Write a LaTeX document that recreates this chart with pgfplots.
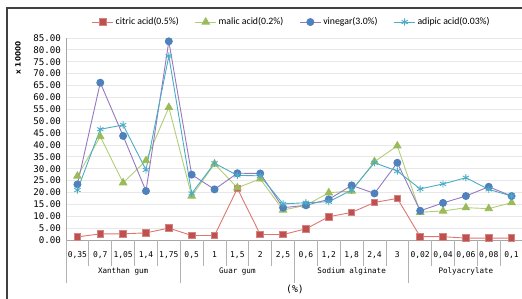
\documentclass[border=0pt]{standalone}
\usepackage{pgfplots}
\pgfplotsset{compat=1.18}
\usepackage{pgfplotstable}
\usepackage{fontspec}
\newfontfamily\legfont{Carlito}
\newfontfamily\monofont{DejaVu Sans Mono}
\newfontfamily\labfont{DejaVu Sans}
\definecolor{cRed}{HTML}{C0504D}
\definecolor{cRedL}{RGB}{222,118,112}
\definecolor{cGreen}{HTML}{9BBB59}
\definecolor{cGreenL}{RGB}{176,206,120}
\definecolor{cBlue}{HTML}{4F81BD}
\definecolor{cPurple}{RGB}{150,120,190}
\definecolor{cCyan}{HTML}{4BACC6}
\pgfplotstableread{
x citric malic vinegar adipic
0 1.3 26.9 23.4 21.0
1 2.6 43.5 66.2 46.6
2 2.6 24.1 43.8 48.4
3 3.0 33.4 20.6 29.5
4 5.0 55.8 83.6 77.4
5 1.9 18.5 27.5 19.6
6 1.9 32.0 21.3 32.3
7 21.7 22.0 28.1 27.2
8 2.3 25.7 28.0 27.0
9 2.3 12.6 13.6 15.2
10 4.7 14.6 14.6 15.7
11 9.8 19.9 17.1 16.1
12 11.6 20.6 23.0 21.0
13 15.8 33.0 19.6 32.5
14 17.5 39.6 32.5 29.0
15 1.4 11.7 12.3 21.5
16 1.4 12.2 15.6 23.6
17 0.8 13.6 18.5 26.2
18 0.8 13.2 22.4 21.3
19 0.8 15.7 18.5 18.5
}\datatable
\begin{document}
\begin{tikzpicture}[x=1bp,y=1bp]
\useasboundingbox (0,0) rectangle (522,298);
\draw[line width=1.3bp, black!75] (7,-2) -- (7,290) -- (530,290);
\begin{axis}[
  at={(66bp,58bp)}, anchor=south west, scale only axis,
  width=457bp, height=202bp,
  xmin=-0.5, xmax=19.5, ymin=0, ymax=85,
  clip=false,
  axis x line*=bottom, axis y line*=left,
  axis line style={draw=gray!70, -},
  xtick={0,...,19},
  xticklabels={{0,35},{0,7},{1,05},{1,4},{1,75},{0,5},{1},{1,5},{2},{2,5},{0,6},{1,2},{1,8},{2,4},{3},{0,02},{0,04},{0,06},{0,08},{0,1}},
  xticklabel style={font=\monofont\fontsize{8}{9}\selectfont, anchor=center, yshift=-15bp},
  ytick={0,5,...,85},
  yticklabel style={font=\monofont\fontsize{9.2}{10}\selectfont, xshift=-1.5bp},
  /pgf/number format/.cd, fixed, fixed zerofill, precision=2, assume math mode=true,
  /pgfplots/.cd,
  major tick length=0pt,
  ymajorgrids, grid style={gray!18, line width=0.8bp},
  legend columns=4,
  legend style={at={(0.494,1.079)}, anchor=center, draw=none, fill=none,
    font=\legfont\fontsize{9.8}{11}\selectfont, inner sep=1bp,
    /tikz/every even column/.append style={column sep=14bp}},
  legend image code/.code={\draw[mark repeat=2,mark phase=2] plot coordinates {(0bp,0bp) (10.5bp,0bp) (21bp,0bp)};},
]
\addplot[color=cRedL, line width=0.9bp, mark=square*, mark size=3.3bp, mark options={fill=cRed, draw=cRed!70!white}] table[x=x, y=citric] {\datatable};
\addlegendentry{citric acid(0.5\%)}
\addplot[color=cGreenL, line width=0.9bp, mark=triangle*, mark size=4.2bp, mark options={fill=cGreen, draw=cGreen}] table[x=x, y=malic] {\datatable};
\addlegendentry{malic acid(0.2\%)}
\addplot[color=cPurple, line width=0.9bp, mark=*, mark size=3.5bp, mark options={fill=cBlue, draw=cBlue}] table[x=x, y=vinegar] {\datatable};
\addlegendentry{vinegar(3.0\%)}
\addplot[color=cCyan, line width=0.9bp, mark=asterisk, mark size=3.6bp, mark options={draw=cCyan}] table[x=x, y=adipic] {\datatable};
\addlegendentry{adipic acid(0.03\%)}
\pgfplotsinvokeforeach{0.5,1.5,2.5,3.5,5.5,6.5,7.5,8.5,10.5,11.5,12.5,13.5,15.5,16.5,17.5,18.5}{
  \draw[gray!60, line width=0.8bp] (axis cs:#1,0) -- ++(0pt,-26bp);
}
\pgfplotsinvokeforeach{-0.5,4.5,9.5,14.5,19.5}{
  \draw[gray!60, line width=0.8bp] (axis cs:#1,0) -- ++(0pt,-43bp);
}
\node[font=\monofont\fontsize{7.6}{9}\selectfont] at (axis cs:2,0) [yshift=-31.5bp] {Xanthan gum};
\node[font=\monofont\fontsize{7.6}{9}\selectfont] at (axis cs:7,0) [yshift=-31.5bp] {Guar gum};
\node[font=\monofont\fontsize{7.6}{9}\selectfont] at (axis cs:12,0) [yshift=-31.5bp] {Sodium alginate};
\node[font=\monofont\fontsize{7.6}{9}\selectfont] at (axis cs:17,0) [yshift=-31.5bp] {Polyacrylate};
\end{axis}
\node[font=\labfont\bfseries\fontsize{7.3}{8}\selectfont, rotate=90] at (18,240) {x 10000};
\node[font=\monofont\fontsize{9.8}{11}\selectfont] at (295,9) {(\%)};
\end{tikzpicture}
\end{document}
